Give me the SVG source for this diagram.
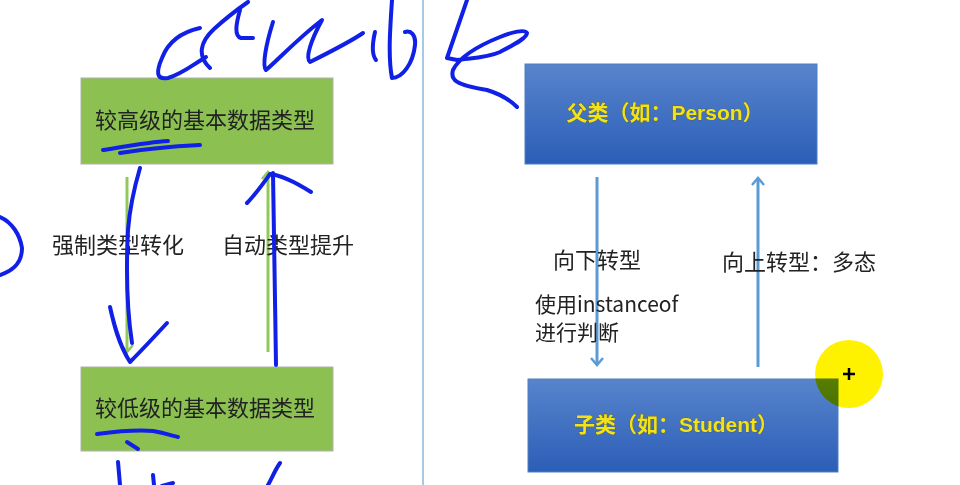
<svg xmlns="http://www.w3.org/2000/svg" width="960" height="485" viewBox="0 0 960 485">
<style>
.cjk{font-family:"Noto Sans CJK SC","Liberation Sans",sans-serif;font-size:22px;fill:#222}
.lbl{font-family:"Noto Sans CJK SC","Liberation Sans",sans-serif;font-size:21px;fill:#222}
.btxt{font-family:"Liberation Sans","Noto Sans CJK SC",sans-serif;font-weight:bold;font-size:21px;fill:#f2e21a;stroke:#5a5a20;stroke-width:0.6;paint-order:stroke}
.green{fill:#8cc152;stroke:#b0b0b0;stroke-width:1}
.blue{stroke:#4f7fc0;stroke-width:1}
.gline{stroke:#92c85a;stroke-width:3;fill:none}
.bline{stroke:#5b9bd5;stroke-width:3;fill:none}
.ink{stroke:#1020e6;stroke-width:4;fill:none;stroke-linecap:round;stroke-linejoin:round}
</style>
<defs>
<linearGradient id="bg" x1="0" y1="0" x2="0" y2="1">
<stop offset="0" stop-color="#5884cc"/>
<stop offset="1" stop-color="#2b5eb7"/>
</linearGradient>
<marker id="chev" viewBox="0 0 12 14" refX="10" refY="7" markerWidth="12" markerHeight="14" markerUnits="userSpaceOnUse" orient="auto">
<path d="M3,1 L10,7 L3,13" fill="none" stroke="#5b9bd5" stroke-width="2.5"/>
</marker>
<marker id="gchev" viewBox="0 0 12 14" refX="10" refY="7" markerWidth="12" markerHeight="14" markerUnits="userSpaceOnUse" orient="auto">
<path d="M3,1 L10,7 L3,13" fill="none" stroke="#92c85a" stroke-width="2.5"/>
</marker>
</defs>
<rect width="960" height="485" fill="#ffffff"/>
<line x1="423" y1="0" x2="423" y2="485" stroke="#a9c9e2" stroke-width="2"/>

<g id="connectors">
<line class="gline" x1="127" y1="177" x2="127" y2="352" marker-end="url(#gchev)"/>
<line class="gline" x1="268" y1="352" x2="268" y2="172" marker-end="url(#gchev)"/>
<line class="bline" x1="597" y1="177" x2="597" y2="365" marker-end="url(#chev)"/>
<line class="bline" x1="758" y1="367" x2="758" y2="178" marker-end="url(#chev)"/>
<text class="cjk" x="52" y="253">强制类型转化</text>
<text class="cjk" x="222" y="253">自动类型提升</text>
<text class="cjk" x="553" y="268">向下转型</text>
<text class="cjk" x="722" y="270">向上转型：多态</text>
<text class="lbl" x="535" y="312">使用instanceof</text>
<text class="lbl" x="535" y="340">进行判断</text>
</g>

<g id="node-high">
<rect class="green" x="81" y="78" width="252" height="86"/>
<text class="cjk" x="95" y="128">较高级的基本数据类型</text>
</g>
<g id="node-low">
<rect class="green" x="81" y="367" width="252" height="84"/>
<text class="cjk" x="95" y="416">较低级的基本数据类型</text>
</g>
<g id="node-parent">
<rect class="blue" x="525" y="64" width="292" height="100" fill="url(#bg)"/>
<text class="btxt" x="665" y="120" text-anchor="middle">父类（如：Person）</text>
</g>
<g id="node-child">
<rect class="blue" x="528" y="379" width="310" height="93" fill="url(#bg)"/>
<text class="btxt" x="676" y="432" text-anchor="middle">子类（如：Student）</text>
</g>

<g id="cursor">
<circle cx="849" cy="374" r="34" fill="#fff200" style="mix-blend-mode:multiply"/>
<path d="M843,374 H855 M849,368 V380" stroke="#000" stroke-width="2.5"/>
</g>

<g id="annotations">
<path class="ink" d="M200,28 C182,32 168,42 162,58 C156,72 156,80 168,78 C182,74 194,64 206,57"/>
<path class="ink" d="M210,68 C197,56 200,42 214,29 C225,19 238,9 248,2"/>
<path class="ink" d="M240,10 C236,24 234,36 241,38 L253,38"/>
<path class="ink" d="M273,22 C266,44 262,66 266,70 C276,62 296,40 322,20 C311,40 305,58 310,62 C330,52 350,42 363,33"/>
<path class="ink" d="M375,32 C372,45 372,55 376,60"/>
<path class="ink" d="M392,0 C390,30 388,58 392,78 C402,78 413,64 415,45 C416,35 411,30 405,32"/>
<path class="ink" d="M467,0 C462,15 455,35 447,58 L457,60 C472,58 487,58 500,52 C515,44 527,38 527,33 C525,29 512,32 500,37 C480,45 460,56 453,70 C450,80 456,85 487,90 C500,94 510,100 517,107"/>
<path class="ink" d="M103,150 C128,146 150,142 168,141"/>
<path class="ink" d="M120,153 C150,148 180,146 200,145"/>
<path class="ink" d="M97,434 C120,431 140,430 153,431 C165,433 172,436 178,437"/>
<path class="ink" d="M127,442 L138,449"/>
<path class="ink" d="M118,462 L120,485"/>
<path class="ink" d="M153,475 L154,485"/>
<path class="ink" d="M173,483 L162,486"/>
<path class="ink" d="M280,463 C275,470 272,478 268,485"/>
<path class="ink" d="M140,168 C135,185 130,205 128,230 C126,270 127,310 132,343"/>
<path class="ink" d="M110,307 C114,325 119,345 130,362 C140,352 155,336 167,323"/>
<path class="ink" d="M273,173 C274,230 275,300 276,365"/>
<path class="ink" d="M247,203 C255,195 262,185 270,174 C280,175 295,182 311,192"/>
<path class="ink" d="M0,217 C12,222 20,235 22,248 C22,262 15,270 0,275"/>
</g>
</svg>
